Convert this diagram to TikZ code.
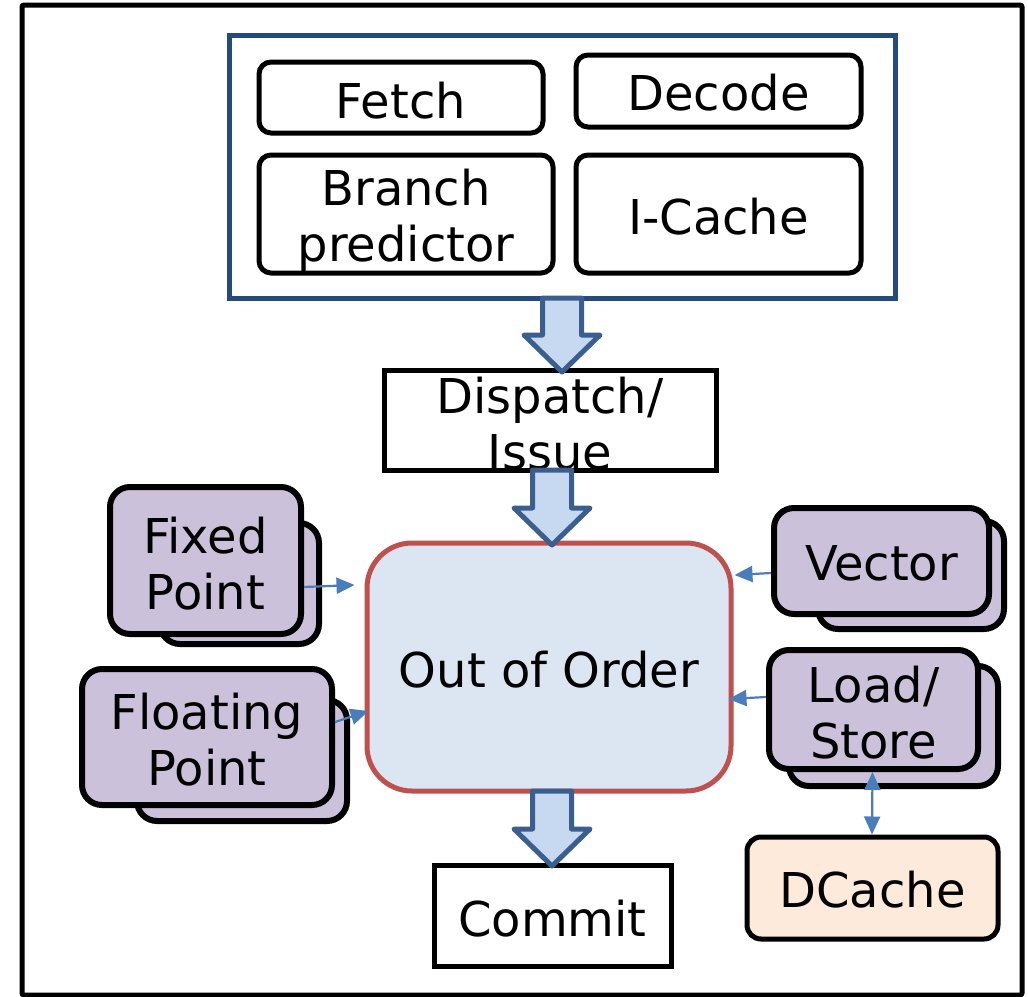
\documentclass[tikz,border=0pt]{standalone}
\usepackage{fontspec}
\setmainfont{DejaVu Sans}
\usetikzlibrary{arrows.meta,calc}
\definecolor{frameblue}{HTML}{254A7E}
\definecolor{arrowfill}{HTML}{C6D9F1}
\definecolor{arrowline}{HTML}{3A5F8E}
\definecolor{unitfill}{HTML}{CCC1DA}
\definecolor{ooofill}{HTML}{DCE6F2}
\definecolor{oooline}{HTML}{C0504D}
\definecolor{dcfill}{HTML}{FDEADA}
\definecolor{smallarrow}{HTML}{4A7EBB}
\newcommand\blockarr[3]{%
  \draw[barrow] (#1-19.5,#2) -- (#1+19.5,#2) -- (#1+19.5,#3-37) -- (#1+38,#3-37)
    -- (#1,#3) -- (#1-38,#3-37) -- (#1-19.5,#3-37) -- cycle;}
\begin{document}
\begin{tikzpicture}[x=1pt,y=-1pt,
  every node/.style={font=\fontsize{48}{56}\selectfont, align=center, inner sep=0pt},
  fbox/.style={draw=black, line width=5pt, rounded corners=12pt, fill=white},
  sbox/.style={draw=black, line width=5pt, fill=white},
  unit/.style={draw=black, line width=6pt, rounded corners=20pt, fill=unitfill},
  barrow/.style={draw=arrowline, fill=arrowfill, line width=5pt, line join=round},
  small/.style={draw=smallarrow, line width=2.2pt, -{Triangle[length=18pt,width=16pt]}},
  smallboth/.style={draw=smallarrow, line width=2.2pt, {Triangle[length=18pt,width=16pt]}-{Triangle[length=18pt,width=16pt]}}]
\useasboundingbox (0,0) rectangle (1028,996);
% outer frame
\draw[line width=5pt, rounded corners=2pt] (22,5) rectangle (1022,995);
% front-end frame
\node[draw=frameblue, line width=5pt, minimum width=666pt, minimum height=263pt] (fe) at (562,166.5) {};
\node[fbox, minimum width=284pt, minimum height=71pt, label={[yshift=-3pt]center:Fetch}] (fetch) at (401,97.5) {};
\node[fbox, minimum width=285pt, minimum height=72pt, label={[yshift=-1.5pt]center:Decode}] (decode) at (718.5,91) {};
\node[fbox, minimum width=294pt, minimum height=118pt, label={[yshift=-6pt]center:{Branch\\predictor}}] (bp) at (406,214) {};
\node[fbox, minimum width=285pt, minimum height=118pt, label={[yshift=-3pt]center:I-Cache}] (icache) at (718.5,214) {};
% dispatch
\node[sbox, minimum width=332pt, minimum height=100pt, label={[yshift=-3.5pt]center:{Dispatch/\\Issue}}] (disp) at (550,420) {};
% out of order
\node[draw=oooline, fill=ooofill, line width=5pt, rounded corners=45pt, minimum width=364pt, minimum height=248pt, label={[yshift=-3pt]center:Out of Order}] (ooo) at (549,667) {};
% commit
\node[sbox, minimum width=237pt, minimum height=101pt, label={[yshift=-3pt]center:Commit}] (commit) at (552.5,915.5) {};
% block arrows
\blockarr{562}{298}{372}
\blockarr{552}{470}{545}
\blockarr{552}{791}{866}
% fixed point
\node[unit, minimum width=159pt, minimum height=121pt] (fixedb) at (239.5,583.5) {};
\node[unit, minimum width=191pt, minimum height=147pt, label={[yshift=-3pt]center:{Fixed\\Point}}] (fixed) at (205.5,560.5) {};
% floating point
\node[unit, minimum width=210pt, minimum height=121pt] (floatb) at (242,760.5) {};
\node[unit, minimum width=250pt, minimum height=136pt, label={[yshift=-3pt]center:{Floating\\Point}}] (float) at (207,737) {};
% vector
\node[unit, minimum width=186pt, minimum height=108pt] (vectorb) at (911,575) {};
\node[unit, minimum width=215pt, minimum height=106pt, label={[yshift=-2pt]center:Vector}] (vector) at (881.5,561) {};
% load/store
\node[unit, minimum width=209pt, minimum height=120pt] (lsb) at (893.5,726) {};
\node[unit, minimum width=209pt, minimum height=119pt, label={[yshift=-3pt]center:{Load/\\Store}}] (ls) at (873.5,709.5) {};
% dcache
\node[draw=black, fill=dcfill, line width=5pt, rounded corners=14pt, minimum width=251pt, minimum height=102pt, label={[yshift=-2pt]center:DCache}] (dc) at (872.5,888) {};
% small arrows
\draw[small] ([yshift=-26.5pt]fixed.east) -- ([xshift=-10pt,yshift=82pt]ooo.west);
\draw[small] ([yshift=15pt]float.east) -- ([xshift=4pt,yshift=-44pt]ooo.west);
\draw[small] ([yshift=-12pt]vector.west) -- ([xshift=1pt,yshift=92pt]ooo.east);
\draw[small] ([yshift=12.5pt]ls.west) -- ([xshift=-5pt,yshift=-32pt]ooo.east);
\draw[smallboth] ([xshift=-1pt]ls.south) -- ([xshift=-0.5pt]dc.north);
\end{tikzpicture}
\end{document}
